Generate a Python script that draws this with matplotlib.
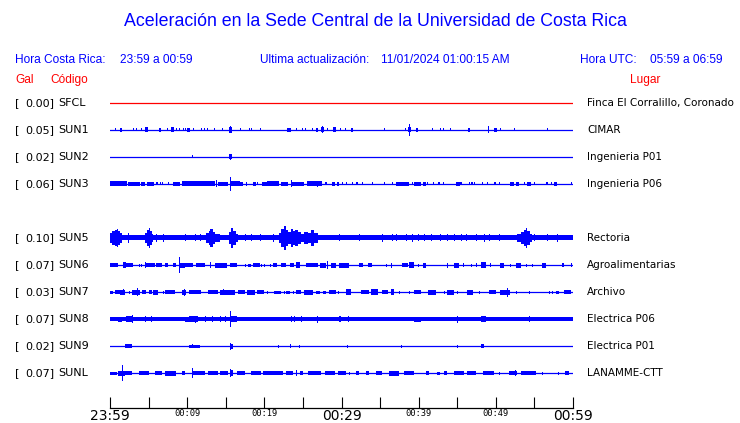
# ---------- Importing Libraries ---------- #
import numpy as np
import matplotlib
matplotlib.use("Agg")
from matplotlib import pyplot as plt
from matplotlib import transforms

# ---------- Data ---------- #
# station table (top to bottom), slot 4 is an empty row
codes = ["SFCL", "SUN1", "SUN2", "SUN3", "SUN5", "SUN6", "SUN7", "SUN8", "SUN9", "SUNL"]
gal = [0.00, 0.05, 0.02, 0.06, 0.10, 0.07, 0.03, 0.07, 0.02, 0.07]
places = ["Finca El Corralillo, Coronado", "CIMAR", "Ingenieria P01", "Ingenieria P06",
          "Rectoria", "Agroalimentarias", "Archivo", "Electrica P06", "Electrica P01",
          "LANAMME-CTT"]
slots = [0, 1, 2, 3, 5, 6, 7, 8, 9, 10]
# background noise half-height (px) of each trace
base_amp = [0.5, 0.5, 0.5, 0.5, 2.5, 0.5, 0.5, 2.0, 0.5, 0.5]
trace_colors = ["red"] + ["blue"] * 9

# bursts per trace: (start minute, end minute, half-height px), minutes after 23:59
sfcl_bursts = []
sun1_bursts = [(0.7, 0.7, 1.5), (1.3, 1.5, 2), (3.0, 3.0, 1.5), (3.4, 3.4, 1.5), (4.0, 4.0, 1.5),
               (4.5, 4.9, 2.5), (6.3, 6.6, 2), (7.4, 7.4, 1.5), (7.9, 8.3, 2.5), (8.6, 8.6, 1.5),
               (8.9, 8.9, 1.5), (9.4, 9.4, 1.5), (9.7, 9.7, 1.5), (10.0, 10.4, 2), (10.7, 10.7, 1.5),
               (11.8, 11.8, 1.5), (12.2, 12.2, 1.5), (12.6, 12.6, 1.5), (13.5, 13.5, 1.5),
               (14.5, 14.5, 1.5), (15.4, 15.8, 3), (15.6, 15.6, 3.5), (16.9, 16.9, 1.5),
               (18.0, 18.0, 1.5), (18.3, 18.3, 1.5), (19.4, 19.4, 1.5), (23.0, 23.4, 2),
               (24.1, 24.1, 1.5), (24.9, 24.9, 1.5), (25.3, 25.3, 1.5), (26.2, 26.2, 1.5),
               (26.7, 27.0, 2), (27.3, 27.7, 2.5), (27.5, 27.5, 3.5), (28.1, 28.1, 1.5),
               (28.9, 29.3, 2.5), (29.8, 29.8, 1.5), (30.5, 30.5, 1.5), (31.2, 31.5, 2),
               (35.5, 35.5, 1.5), (38.2, 38.2, 1.5), (38.6, 39.0, 2.5), (38.8, 38.8, 6),
               (39.6, 39.9, 2), (41.7, 41.7, 1.5), (42.8, 42.8, 1.5), (43.2, 43.2, 1.5),
               (44.0, 44.0, 1.5), (46.4, 46.7, 2), (49.0, 49.0, 3.5), (49.8, 50.1, 2),
               (50.6, 50.6, 1.5), (52.3, 52.3, 1.5), (56.6, 56.6, 1.5)]
sun2_bursts = [(10.6, 10.6, 1.5), (15.4, 15.8, 2.5), (15.6, 15.6, 3)]
sun3_bursts = [(0.0, 2.2, 2.5), (2.3, 3.9, 2), (4.0, 4.5, 2), (4.8, 5.7, 2), (5.9, 6.2, 1.5),
               (6.5, 6.6, 1.5), (6.7, 6.9, 1.5), (7.5, 7.6, 1.5), (8.2, 9.1, 2), (9.3, 13.6, 2.5),
               (13.8, 13.8, 3.5), (14.0, 15.3, 2), (15.6, 15.6, 7), (15.7, 16.8, 2.5),
               (16.9, 17.3, 2), (17.6, 17.8, 2), (18.5, 18.9, 2), (19.1, 19.2, 1.5),
               (19.7, 20.3, 2), (20.4, 21.9, 2.5), (22.2, 23.1, 2), (23.4, 23.4, 3.5),
               (23.5, 25.2, 2), (25.5, 27.5, 2.5), (26.8, 26.8, 3), (27.8, 28.1, 1.5),
               (28.8, 29.1, 2), (29.4, 29.7, 2), (30.0, 30.2, 1.5), (30.6, 30.7, 1.5),
               (31.3, 31.3, 1.5), (31.9, 32.1, 1.5), (32.7, 32.7, 1.5), (33.9, 34.0, 1.5),
               (35.5, 35.5, 1.5), (36.5, 36.5, 1.5), (37.0, 37.8, 2), (37.9, 38.8, 2),
               (39.2, 39.3, 1.5), (39.4, 40.3, 2), (40.6, 41.0, 2), (41.1, 41.2, 1.5),
               (41.8, 41.9, 1.5), (42.5, 42.7, 1.5), (43.2, 43.3, 1.5), (44.9, 45.3, 2),
               (45.4, 45.6, 1.5), (46.5, 46.7, 1.5), (46.8, 47.0, 1.5), (47.2, 47.3, 1.5),
               (48.2, 48.3, 1.5), (48.8, 49.0, 1.5), (49.8, 50.0, 1.5), (50.4, 50.6, 1.5),
               (51.8, 52.3, 2), (52.6, 53.0, 2), (53.6, 53.8, 1.5), (54.1, 54.6, 2),
               (55.0, 55.1, 1.5), (56.5, 56.7, 1.5), (57.2, 57.3, 1.5), (57.5, 57.9, 2),
               (59.7, 59.9, 1.5)]
sun5_bursts = [(0.0, 0.3, 5), (0.3, 0.6, 7), (0.6, 0.9, 8), (0.9, 1.1, 9), (1.1, 1.3, 7),
               (1.3, 1.6, 5), (2.3, 2.5, 5), (4.6, 4.8, 5), (4.8, 5.0, 8), (5.0, 5.2, 10),
               (5.2, 5.4, 7), (5.4, 5.6, 4), (6.0, 6.1, 4), (6.9, 7.0, 4), (9.7, 9.8, 3.5),
               (11.0, 11.1, 3.5), (11.6, 11.7, 3.5), (12.5, 12.8, 5), (12.8, 13.0, 7),
               (13.0, 13.3, 9), (13.3, 13.6, 6), (13.6, 14.2, 4), (15.4, 15.7, 6),
               (15.7, 16.0, 10), (16.0, 16.3, 7), (16.3, 16.6, 4), (17.5, 17.6, 3.5),
               (18.3, 18.4, 3.5), (19.4, 19.5, 3.5), (21.1, 21.2, 4), (21.9, 22.2, 5),
               (22.2, 22.5, 9), (22.5, 22.8, 12), (22.8, 23.1, 8), (23.1, 23.4, 6),
               (23.4, 23.7, 9), (23.7, 24.0, 7), (24.0, 24.4, 8), (24.4, 24.8, 6),
               (24.8, 25.1, 4), (25.2, 25.6, 6), (25.6, 26.0, 5), (26.0, 26.4, 8),
               (26.4, 26.9, 5), (29.7, 29.8, 3.5), (32.3, 32.4, 3.5), (35.3, 35.4, 4),
               (36.5, 36.6, 3.5), (37.1, 37.2, 3.5), (38.4, 38.5, 3.5), (39.2, 39.3, 4),
               (39.9, 40.0, 3.5), (40.7, 40.8, 3.5), (41.6, 41.7, 3.5), (42.7, 42.8, 3.5),
               (43.7, 43.8, 3.5), (44.6, 44.7, 3.5), (45.5, 45.6, 3.5), (46.1, 46.2, 3.5),
               (47.4, 47.5, 3.5), (48.5, 48.6, 4), (49.1, 49.2, 3.5), (50.4, 50.5, 3.5),
               (52.8, 53.2, 4), (53.2, 53.6, 6), (53.6, 53.9, 8), (53.9, 54.1, 10),
               (54.1, 54.4, 7), (54.4, 54.7, 4), (54.9, 55.0, 3.5), (56.6, 56.7, 3.5),
               (57.9, 58.0, 4)]
sun6_bursts = [(0.0, 1.1, 2), (1.7, 2.1, 3), (2.1, 3.0, 2), (3.7, 3.7, 1.5), (4.0, 4.0, 1.5),
               (4.5, 5.8, 2), (4.6, 4.6, 3), (6.0, 6.7, 2), (7.1, 7.5, 2), (8.2, 8.6, 2),
               (8.9, 8.9, 8), (9.0, 9.7, 2.5), (9.7, 10.8, 2), (11.2, 12.3, 2), (12.9, 12.9, 3),
               (13.6, 15.1, 2.5), (15.5, 16.4, 2), (17.5, 17.5, 1.5), (17.9, 18.3, 1.5),
               (18.5, 19.4, 2), (19.6, 19.6, 1.5), (20.0, 20.0, 1.5), (20.7, 20.7, 1.5),
               (21.1, 21.6, 2), (22.2, 22.8, 2), (23.3, 23.9, 2), (24.1, 24.6, 3),
               (25.4, 26.9, 2), (27.2, 28.0, 2.5), (28.1, 28.1, 4), (28.7, 29.3, 2.5),
               (29.7, 31.0, 2.5), (32.3, 32.8, 2), (33.4, 34.0, 2), (35.8, 35.8, 1.5),
               (36.4, 36.6, 2.5), (37.9, 38.6, 2), (38.8, 39.4, 3), (39.9, 39.9, 1.5),
               (40.5, 41.0, 2.5), (43.7, 43.7, 2.5), (44.6, 45.2, 2.5), (45.7, 45.7, 2),
               (46.8, 46.8, 1.5), (47.4, 47.4, 2), (48.1, 48.7, 3), (49.3, 49.3, 2),
               (50.6, 51.1, 2.5), (51.9, 51.9, 1.5), (52.6, 53.2, 2.5), (53.9, 53.9, 1.5),
               (54.7, 54.7, 1.5), (56.0, 56.5, 2.5), (58.6, 58.8, 2), (59.7, 59.9, 2)]
sun7_bursts = [(0.0, 0.4, 1.5), (0.6, 1.3, 2), (1.3, 1.9, 2.5), (1.7, 1.7, 3), (2.4, 2.4, 1.5),
               (2.8, 3.9, 2.5), (3.5, 3.5, 4), (4.1, 4.7, 2), (5.0, 5.4, 2), (5.6, 6.2, 2.5),
               (6.9, 6.9, 1.5), (7.1, 8.4, 2), (9.3, 9.9, 2.5), (9.6, 9.6, 3.5), (10.3, 11.8, 2),
               (12.7, 14.0, 2), (14.2, 16.2, 2.5), (14.6, 14.6, 3), (16.6, 17.5, 2),
               (17.7, 18.8, 2.5), (19.0, 19.6, 2), (19.4, 20.0, 2), (20.3, 20.3, 1.5),
               (21.3, 22.2, 1.5), (22.6, 22.6, 1.5), (22.8, 23.3, 1.5), (23.7, 23.7, 1.5),
               (24.1, 24.8, 2), (25.2, 26.3, 2.5), (26.7, 27.2, 1.5), (27.6, 28.0, 1.5),
               (28.4, 29.3, 2), (29.6, 29.6, 1.5), (30.6, 31.2, 3), (32.5, 33.6, 2),
               (33.8, 34.7, 3), (35.3, 36.0, 2), (36.4, 36.8, 3), (37.5, 37.5, 1.5),
               (38.8, 38.8, 1.5), (39.4, 40.3, 2), (41.2, 42.2, 2.5), (43.3, 43.3, 1.5),
               (43.7, 44.6, 2.5), (45.0, 45.0, 1.5), (46.3, 47.0, 2.5), (47.8, 47.8, 1.5),
               (49.1, 50.0, 2), (50.6, 51.9, 2.5), (51.4, 51.4, 4.5), (52.6, 52.6, 1.5),
               (54.3, 54.3, 1.5), (56.9, 56.9, 1.5), (57.3, 57.3, 1.5), (57.8, 58.2, 1.5),
               (58.8, 59.7, 2)]
sun8_bursts = [(0.0, 0.9, 2.2), (1.0, 1.6, 2.5), (2.1, 3.0, 3), (2.8, 2.8, 4), (4.6, 4.6, 3),
               (5.3, 5.3, 3), (9.7, 10.8, 2.5), (10.3, 11.4, 3), (11.0, 11.0, 3.5),
               (12.3, 12.3, 3), (13.2, 13.2, 3), (14.3, 14.3, 3), (14.9, 14.9, 3),
               (15.6, 15.6, 8), (15.7, 16.4, 3), (23.5, 23.5, 3), (23.9, 23.9, 3),
               (24.8, 24.8, 3), (26.8, 26.8, 3.5), (29.7, 29.9, 3), (30.8, 30.8, 3),
               (39.4, 40.3, 2.5), (45.0, 45.0, 3.5), (48.1, 48.7, 3), (54.3, 54.3, 3)]
sun9_bursts = [(1.9, 2.8, 2), (10.3, 11.6, 1.5), (10.6, 10.6, 2), (15.5, 15.9, 2.5),
               (15.6, 15.6, 3.5), (21.8, 21.8, 1.5), (23.3, 23.3, 2), (24.5, 24.5, 1.5),
               (30.7, 30.7, 1.5), (37.7, 37.7, 1.5), (45.0, 45.0, 1.5), (48.1, 48.5, 2)]
sunl_bursts = [(0.0, 0.9, 1.5), (1.1, 1.9, 2.5), (1.6, 1.6, 8), (1.9, 2.8, 2), (3.7, 5.0, 2),
               (5.8, 6.7, 2), (7.1, 8.6, 2.5), (9.3, 9.7, 2), (10.6, 10.6, 5), (10.8, 12.3, 2),
               (12.7, 14.0, 2), (14.2, 15.3, 2), (15.5, 15.9, 3), (15.6, 15.6, 4),
               (16.4, 17.5, 2), (18.3, 19.6, 2), (19.8, 22.4, 2), (22.8, 23.7, 2),
               (24.1, 24.1, 3), (24.6, 25.0, 2), (25.6, 27.4, 2), (27.8, 29.1, 2),
               (29.5, 30.6, 2), (31.0, 31.0, 1.5), (31.9, 32.3, 2), (33.2, 33.6, 2),
               (34.5, 35.3, 2), (36.2, 37.5, 2.5), (38.1, 39.4, 2), (40.9, 41.4, 2),
               (42.4, 42.7, 1.5), (43.3, 43.7, 2), (44.6, 45.9, 2), (46.3, 47.4, 2),
               (48.3, 49.8, 2), (50.4, 50.4, 1.5), (51.7, 52.8, 2), (52.5, 52.5, 3),
               (53.2, 55.2, 2), (56.0, 56.0, 1.5), (58.1, 58.1, 1.5), (59.0, 59.5, 2)]

tick_minutes = list(range(0, 61, 5))
tick_labels = ["23:59", "", "00:09", "", "00:19", "", "00:29", "", "00:39", "", "00:49", "", "00:59"]
big_labels = ["23:59", "00:29", "00:59"]

all_bursts = [sfcl_bursts, sun1_bursts, sun2_bursts, sun3_bursts, sun5_bursts,
              sun6_bursts, sun7_bursts, sun8_bursts, sun9_bursts, sunl_bursts]

# ---------- Figure ---------- #
W, H = 740, 423
fig = plt.figure(figsize=(W / 100, H / 100), dpi=100)
fig.patch.set_facecolor("white")

row_px = 27.0  # pixel height of one row slot
x0_px, x1_px = 110, 573
top_px, bot_px = 103 - row_px / 2, 373 + row_px / 2

ax = fig.add_axes([x0_px / W, 1 - bot_px / H, (x1_px - x0_px) / W, (bot_px - top_px) / H])
ax.set_xlim(0, 60)
ax.set_ylim(10.5, -0.5)
ax.axis("off")

min_w = 0.13
for k in range(len(codes)):
    y = slots[k]
    col = trace_colors[k]
    b = base_amp[k] / row_px
    if base_amp[k] > 0.6:
        ax.fill_between([0, 60], y - b, y + b, color=col, linewidth=0)
    else:
        ax.plot([0, 60], [y, y], color=col, linewidth=0.9)
    bursts = all_bursts[k]
    if bursts:
        starts = np.array([s for s, e, a in bursts])
        ends = np.array([e for s, e, a in bursts])
        amps = np.array([a for s, e, a in bursts]) / row_px
        widths = np.maximum(ends - starts, min_w)
        ax.bar(starts, 2 * amps, width=widths, bottom=y - amps, align="edge",
               color=col, linewidth=0)

# station labels
left_tr = transforms.blended_transform_factory(fig.transFigure, ax.transData)
for k in range(len(codes)):
    ax.text(15 / W, slots[k], "[", transform=left_tr, fontsize=8, va="center",
            family="DejaVu Sans")
    ax.text(54 / W, slots[k], "%.2f]" % gal[k], transform=left_tr, fontsize=8,
            va="center", ha="right", family="DejaVu Sans")
    ax.text(58 / W, slots[k], codes[k], transform=left_tr, fontsize=8, va="center",
            family="DejaVu Sans")
    ax.text(587 / W, slots[k], places[k], transform=left_tr, fontsize=7.5, va="center",
            family="DejaVu Sans")

# time axis
tax = fig.add_axes([x0_px / W, 1 - 408 / H, (x1_px - x0_px) / W, 0.02])
tax.set_xlim(0, 60)
tax.set_ylim(0, 1)
for s in ["top", "left", "right"]:
    tax.spines[s].set_visible(False)
tax.spines["bottom"].set_linewidth(0.9)
tax.set_yticks([])
tax.set_xticks(tick_minutes)
tax.set_xticklabels(tick_labels)
tax.tick_params(axis="x", direction="in", length=8, width=0.8, pad=1)
for lab in tax.get_xticklabels():
    if lab.get_text() in big_labels:
        lab.set_fontsize(10)
        lab.set_family("DejaVu Sans")
    else:
        lab.set_fontsize(6.3)
        lab.set_family("DejaVu Sans Mono")
tax.patch.set_alpha(0)

# header texts
hfont = "Liberation Sans"
fig.text(375 / W, 1 - 22 / H, "Aceleración en la Sede Central de la Universidad de Costa Rica",
         ha="center", va="center", fontsize=12.8, color="blue", family=hfont)
hdr = [(15, "Hora Costa Rica:"), (120, "23:59 a 00:59"), (260, "Ultima actualización:"),
       (381, "11/01/2024 01:00:15 AM"), (580, "Hora UTC:"), (650, "05:59 a 06:59")]
for xp, txt in hdr:
    fig.text(xp / W, 1 - 60 / H, txt, fontsize=8.6, color="blue", va="center", family=hfont)
for xp, txt in [(15, "Gal"), (50, "Código"), (630, "Lugar")]:
    fig.text(xp / W, 1 - 80 / H, txt, fontsize=8.6, color="red", va="center", family=hfont)

fig.savefig("out.png", dpi=100)
